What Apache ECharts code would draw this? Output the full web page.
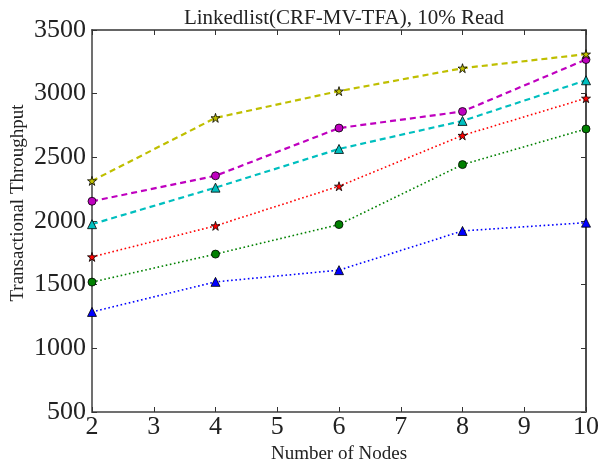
<!DOCTYPE html>
<html>
<head>
<meta charset="utf-8">
<script src="https://cdn.jsdelivr.net/npm/echarts@6/dist/echarts.min.js"></script>
<style>
  html, body { margin: 0; padding: 0; background: #fff; }
  #chart { width: 600px; height: 463px; }
</style>
</head>
<body>
<div id="chart"></div>
<script>
// Throughput per node count for six configurations
const nodes = [2, 4, 6, 8, 10];
const yellowStar = [2315, 2810, 3020, 3200, 3310];
const magentaCircle = [2155, 2355, 2730, 2860, 3268];
const cyanTriangle = [1975, 2262, 2566, 2786, 3105];
const redStar = [1718, 1962, 2273, 2672, 2964];
const greenCircle = [1520, 1740, 1972, 2443, 2723];
const blueTriangle = [1286, 1522, 1614, 1922, 1987];

const xTicks = { min: 2, max: 10, step: 1 };
const yTicks = { min: 500, max: 3500, step: 500 };

const titleText = 'Linkedlist(CRF-MV-TFA), 10% Read';
const xName = 'Number of Nodes';
const yName = 'Transactional Throughput';

const FONT = '"Liberation Serif", "DejaVu Serif", serif';
const STAR = 'path://M50,2 L61.2,36.2 L97.6,36.2 L68.2,57.6 L79.4,91.8 L50,70.6 L20.6,91.8 L31.8,57.6 L2.4,36.2 L38.8,36.2 Z';

function pairs(vals) { return nodes.map((n, i) => [n, vals[i]]); }

function mk(name, vals, color, dashed, symbol, size) {
  return {
    name, type: 'line', data: pairs(vals),
    xAxisIndex: 0, yAxisIndex: 0,
    symbol, symbolSize: size, showSymbol: true,
    lineStyle: dashed
      ? { color, width: 2.2, type: [6, 4] }
      : { color, width: 1.6, type: [1.6, 2.6] },
    itemStyle: { color, borderColor: '#000', borderWidth: 0.8 },
    emphasis: { disabled: true },
    animation: false
  };
}

const grid = { left: 92, right: 14, top: 30, bottom: 51, outerBoundsMode: 'none', containLabel: false };

const baseTickStyle = { inside: true, length: 5 };

const option = {
  backgroundColor: '#fff',
  animation: false,
  title: {
    text: titleText,
    left: 339, top: 3, textAlign: 'center',
    textStyle: { fontFamily: FONT, fontWeight: 'normal', fontSize: 21, color: '#222' }
  },
  graphic: [{
    type: 'text',
    x: 18, y: 203,
    rotation: Math.PI / 2,
    style: {
      text: yName,
      fontFamily: FONT, fontSize: 19, fill: '#222',
      align: 'center', verticalAlign: 'middle'
    }
  }],
  grid,
  xAxis: [{
    type: 'value', min: xTicks.min, max: xTicks.max, interval: xTicks.step,
    position: 'bottom',
    name: xName, nameLocation: 'middle', nameGap: 28,
    nameTextStyle: { fontFamily: FONT, fontSize: 19, color: '#222' },
    axisLine: { lineStyle: { color: '#707070', width: 2 } },
    axisTick: { ...baseTickStyle, lineStyle: { color: '#333', width: 1 } },
    axisLabel: { fontFamily: FONT, fontSize: 26, color: '#222', margin: 2 },
    splitLine: { show: false }
  }, {
    type: 'value', min: xTicks.min, max: xTicks.max, interval: xTicks.step,
    position: 'top',
    axisLine: { lineStyle: { color: '#333', width: 1.5 } },
    axisTick: { ...baseTickStyle, lineStyle: { color: '#333', width: 1 } },
    axisLabel: { show: false },
    splitLine: { show: false }
  }],
  yAxis: [{
    type: 'value', min: yTicks.min, max: yTicks.max, interval: yTicks.step,
    position: 'left',
    axisLine: { show: true, lineStyle: { color: '#707070', width: 2 } },
    axisTick: { show: true, ...baseTickStyle, lineStyle: { color: '#333', width: 1 } },
    axisLabel: { fontFamily: FONT, fontSize: 26, color: '#222', margin: 6, formatter: v => String(v) },
    splitLine: { show: false }
  }, {
    type: 'value', min: yTicks.min, max: yTicks.max, interval: yTicks.step,
    position: 'right',
    axisLine: { show: true, lineStyle: { color: '#111', width: 1.5 } },
    axisTick: { show: true, ...baseTickStyle, lineStyle: { color: '#333', width: 1 } },
    axisLabel: { show: false },
    splitLine: { show: false }
  }],
  series: [
    mk('blue', blueTriangle, '#0000ff', false, 'triangle', 9),
    mk('green', greenCircle, '#008000', false, 'circle', 8),
    mk('red', redStar, '#ff0000', false, STAR, 9),
    mk('cyan', cyanTriangle, '#00bfbf', true, 'triangle', 9),
    mk('magenta', magentaCircle, '#bf00bf', true, 'circle', 8),
    mk('yellow', yellowStar, '#bfbf00', true, STAR, 9)
  ]
};

const chart = echarts.init(document.getElementById('chart'), null, { renderer: 'canvas' });
chart.setOption(option);
</script>
</body>
</html>
